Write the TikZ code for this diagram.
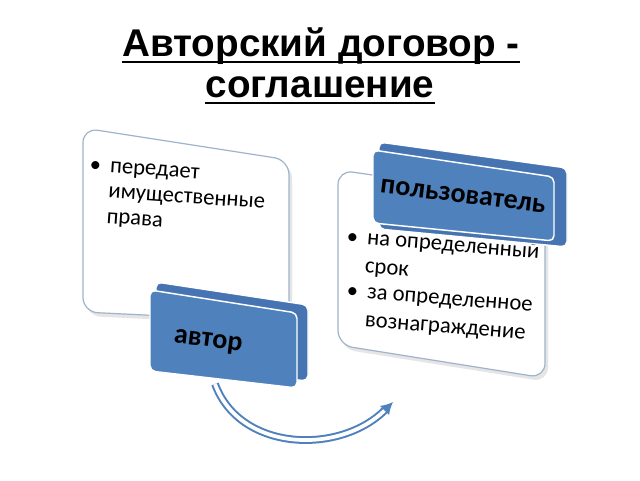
\documentclass[tikz,border=0pt]{standalone}
\usepackage{fontspec}
\setmainfont{Carlito}
\newfontfamily\titlefont{Liberation Sans}
\usetikzlibrary{arrows.meta,calc}
\definecolor{boxblue}{HTML}{4F81BD}
\definecolor{backblue}{HTML}{4674B2}
\definecolor{edgegray}{HTML}{9FB3CC}
\begin{document}
\begin{tikzpicture}[x=0.75pt,y=-0.75pt,
  whitebox/.style={fill=white, draw=edgegray, line width=0.9pt, rounded corners=11pt},
  shadowbox/.style={fill=black!10, rounded corners=11pt},
  bluefront/.style={fill=boxblue, draw=white, line width=1.1pt, rounded corners=4pt},
  blueback/.style={fill=backblue, draw=white, line width=1.1pt, rounded corners=4pt},
  titletext/.style={font=\titlefont\bfseries\fontsize{29}{32}\selectfont, inner sep=0},
  underl/.style={line width=1.9pt},
  bodytext/.style={font=\fontsize{17}{19}\selectfont, inner sep=0, anchor=base west},
  labeltext/.style={font=\bfseries\fontsize{21}{24}\selectfont, inner sep=0},
  flowarrow/.style={draw=boxblue, line width=1.5pt, double=white, double distance=2.8pt, -{Latex[length=9pt,width=10pt]}}
]
\useasboundingbox (0,0) rectangle (640,480);
\fill[white] (0,0) rectangle (640,480);

% title
\node[titletext, anchor=base] (t1) at (321,56) {Авторский договор -};
\node[titletext, anchor=base] (t2) at (320,97) {соглашение};
\draw[underl] ($(t1.base west)+(0,6)$) -- ($(t1.base east)+(0,6)$);
\draw[underl] ($(t2.base west)+(0,6)$) -- ($(t2.base east)+(0,6)$);

% left white box
\path[shadowbox] (86,132) -- (292,164) -- (292,326) -- (86,316) -- cycle;
\path[whitebox] (83,128) -- (289,160) -- (289,322) -- (83,312) -- cycle;
\node[bodytext, rotate=-4] (lefttext) at (89,171) {\begin{tabular}[t]{@{}l@{\hspace{7pt}}l@{}}\textbullet & передает\\ & имущественные\\ & права\end{tabular}};

% right white box
\path[shadowbox] (341,174) -- (548,204) -- (548,382) -- (341,349) -- cycle;
\path[whitebox] (338,170) -- (545,200) -- (545,378) -- (338,345) -- cycle;
\node[bodytext, rotate=-4.5, font=\fontsize{17}{21}\selectfont] (righttext1) at (346,243) {\begin{tabular}[t]{@{}l@{\hspace{7pt}}l@{}}\textbullet & на определенный\\ & срок\end{tabular}};
\node[bodytext, rotate=-4.5, font=\fontsize{17}{21}\selectfont] (righttext2) at (346,297) {\begin{tabular}[t]{@{}l@{\hspace{7pt}}l@{}}\textbullet & за определенное\\ & вознаграждение\end{tabular}};

% user box
\path[blueback] (379,142) -- (567,168) -- (567,247) -- (379,229) -- cycle;
\path[bluefront] (373,150) -- (554,177) -- (554,241) -- (373,223) -- cycle;
\node[labeltext, rotate=-7] (user) at (463,196) {пользователь};

% author box
\path[blueback] (156,282) -- (308,305) -- (308,381) -- (156,366) -- cycle;
\path[bluefront] (150,290) -- (297,313) -- (297,388) -- (150,371) -- cycle;
\node[labeltext, rotate=-7] (author) at (208,342) {автор};

% arrow
\coordinate (arrowstart) at (215,384);
\coordinate (arrowend) at (393,402);
\draw[flowarrow] (arrowstart) .. controls (240,452) and (340,455) .. (arrowend);
\end{tikzpicture}
\end{document}
